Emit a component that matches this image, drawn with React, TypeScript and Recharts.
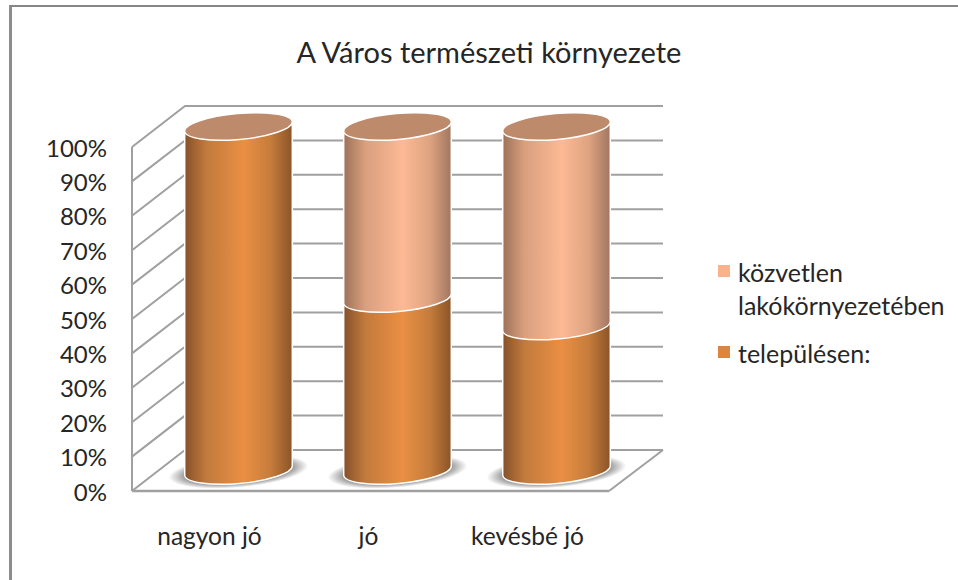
import { Bar, BarChart, CartesianGrid, Legend, XAxis, YAxis } from "recharts"

const categories = ["nagyon jó", "jó", "kevésbé jó"]
const telepulesen = [100, 50, 42]
const kozvetlen = [0, 50, 58]
const percentTicks = [0, 10, 20, 30, 40, 50, 60, 70, 80, 90, 100]

const data = categories.map((name, i) => ({
	name,
	telepulesen: telepulesen[i],
	kozvetlen: kozvetlen[i],
}))

const FONT = "Lato, sans-serif"
const TEXT = "#262626"
const GRID = "#a0a0a0"
// how far the back wall sits from the front of the box
const DEPTH_X = 53
const DEPTH_Y = 41
const RX = 54
const RY = 13
const TILT = 5
const DX = RX * Math.cos((TILT * Math.PI) / 180)
const DY = RX * Math.sin((TILT * Math.PI) / 180)

const WallLine = (props: any) => {
	const { x1, x2, y1 } = props
	const isFloor = y1 > 480
	const bx = x1 + DEPTH_X
	const by = y1 - DEPTH_Y
	return (
		<g key={props.key}>
			<path
				d={`M${x1} ${y1}L${bx} ${by}L${x2 + DEPTH_X + 1} ${by}`}
				fill="none"
				stroke={GRID}
				strokeWidth={2}
			/>
			{isFloor && (
				<path
					d={`M${x2} ${y1}L${x2 + DEPTH_X + 1} ${by}`}
					fill="none"
					stroke={GRID}
					strokeWidth={2}
				/>
			)}
		</g>
	)
}

const Cylinder = (props: any) => {
	const { x, y, width, height, gradient, base, capped } = props
	if (!height || height <= 0) return null
	const cx = x + width / 2 + DEPTH_X / 2
	const top = y - DEPTH_Y / 2
	const bottom = y + height - DEPTH_Y / 2
	const arc = (sweep: number, px: number, py: number) =>
		`A${RX} ${RY} ${-TILT} 0 ${sweep} ${px} ${py}`
	const body =
		`M${cx - DX} ${bottom + DY}` +
		arc(0, cx + DX, bottom - DY) +
		`L${cx + DX} ${top - DY}` +
		arc(0, cx - DX, top + DY) +
		"Z"
	return (
		<g>
			{base && (
				<ellipse
					cx={cx}
					cy={bottom + 1}
					rx={70}
					ry={16}
					transform={`rotate(${-TILT} ${cx} ${bottom + 1})`}
					fill="url(#baseShadow)"
				/>
			)}
			<path d={body} fill={`url(#${gradient})`} stroke="#ffffff" strokeWidth={1.5} />
			{capped && (
				<ellipse
					cx={cx}
					cy={top}
					rx={RX}
					ry={RY}
					transform={`rotate(${-TILT} ${cx} ${top})`}
					fill="#bd8a6c"
					stroke="#ffffff"
					strokeWidth={1.5}
				/>
			)}
		</g>
	)
}

const LegendBox = ({ payload }: any) => (
	<div style={{ fontFamily: FONT, fontSize: 25, lineHeight: "33px", color: TEXT }}>
		{(payload ?? []).map((item: any) => (
			<div
				key={item.value}
				style={{ display: "flex", marginBottom: 15, alignItems: "flex-start" }}
			>
				<span
					style={{
						width: 12,
						height: 12,
						marginTop: 9,
						marginRight: 8,
						flex: "none",
						background: item.color,
					}}
				/>
				<span>{item.value}</span>
			</div>
		))}
	</div>
)

const App = () => {
	return (
		<div style={{ position: "absolute", left: 0, top: 0, width: 958, height: 580, background: "#fff", overflow: "hidden" }}>
			<div
				style={{
					position: "absolute",
					left: 9,
					top: 5,
					width: 960,
					height: 590,
					borderLeft: "3px solid #8c8c8c",
					borderTop: "2px solid #868686",
				}}
			/>
			<div style={{ position: "absolute", left: 0, top: 0 }}>
				<BarChart
					width={958}
					height={580}
					data={data}
					barSize={108}
					margin={{ top: 147, right: 349, bottom: 29, left: 72 }}
				>
					<defs>
						<linearGradient id="darkCyl" x1="0" y1="0" x2="1" y2="0">
							<stop offset="0" stopColor="#85512a" />
							<stop offset="0.2" stopColor="#c27a3c" />
							<stop offset="0.55" stopColor="#ea8f44" />
							<stop offset="0.8" stopColor="#c67c3b" />
							<stop offset="1" stopColor="#8a5428" />
						</linearGradient>
						<linearGradient id="lightCyl" x1="0" y1="0" x2="1" y2="0">
							<stop offset="0" stopColor="#9c7259" />
							<stop offset="0.2" stopColor="#d99f7e" />
							<stop offset="0.55" stopColor="#fdb994" />
							<stop offset="0.8" stopColor="#dea381" />
							<stop offset="1" stopColor="#a17660" />
						</linearGradient>
						<radialGradient id="baseShadow">
							<stop offset="0.72" stopColor="#858585" />
							<stop offset="1" stopColor="#858585" stopOpacity={0} />
						</radialGradient>
					</defs>
					<text
						x={489}
						y={63}
						textAnchor="middle"
						fontFamily={FONT}
						fontSize={29}
						fill={TEXT}
					>
						A Város természeti környezete
					</text>
					<CartesianGrid vertical={false} horizontal={WallLine} />
					<XAxis
						dataKey="name"
						height={60}
						tickLine={false}
						tickMargin={31}
						axisLine={{ stroke: GRID, strokeWidth: 2.5 }}
						tick={{ fontFamily: FONT, fontSize: 24.5, fill: TEXT, dx: -2 }}
					/>
					<YAxis
						width={60}
						domain={[0, 100]}
						ticks={percentTicks}
						interval={0}
						tickLine={false}
						tickMargin={19}
						tickFormatter={(v: number) => `${v}%`}
						axisLine={{ stroke: GRID, strokeWidth: 2 }}
						tick={{ fontFamily: FONT, fontSize: 24, fill: TEXT, dy: 1 }}
					/>
					<Legend
						layout="horizontal"
						verticalAlign="middle"
						align="center"
						content={<LegendBox />}
						wrapperStyle={{ left: 718, top: 256, width: 240, bottom: "auto" }}
					/>
					<Bar
						dataKey="telepulesen"
						name="településen:"
						stackId="a"
						fill="#dc853c"
						isAnimationActive={false}
						shape={(p: any) => (
							<Cylinder
								{...p}
								gradient="darkCyl"
								base
								capped={p.payload.kozvetlen === 0}
							/>
						)}
					/>
					<Bar
						dataKey="kozvetlen"
						name="közvetlen lakókörnyezetében"
						stackId="a"
						fill="#f9b38c"
						isAnimationActive={false}
						shape={(p: any) => <Cylinder {...p} gradient="lightCyl" capped />}
					/>
				</BarChart>
			</div>
		</div>
	)
}

export default App
